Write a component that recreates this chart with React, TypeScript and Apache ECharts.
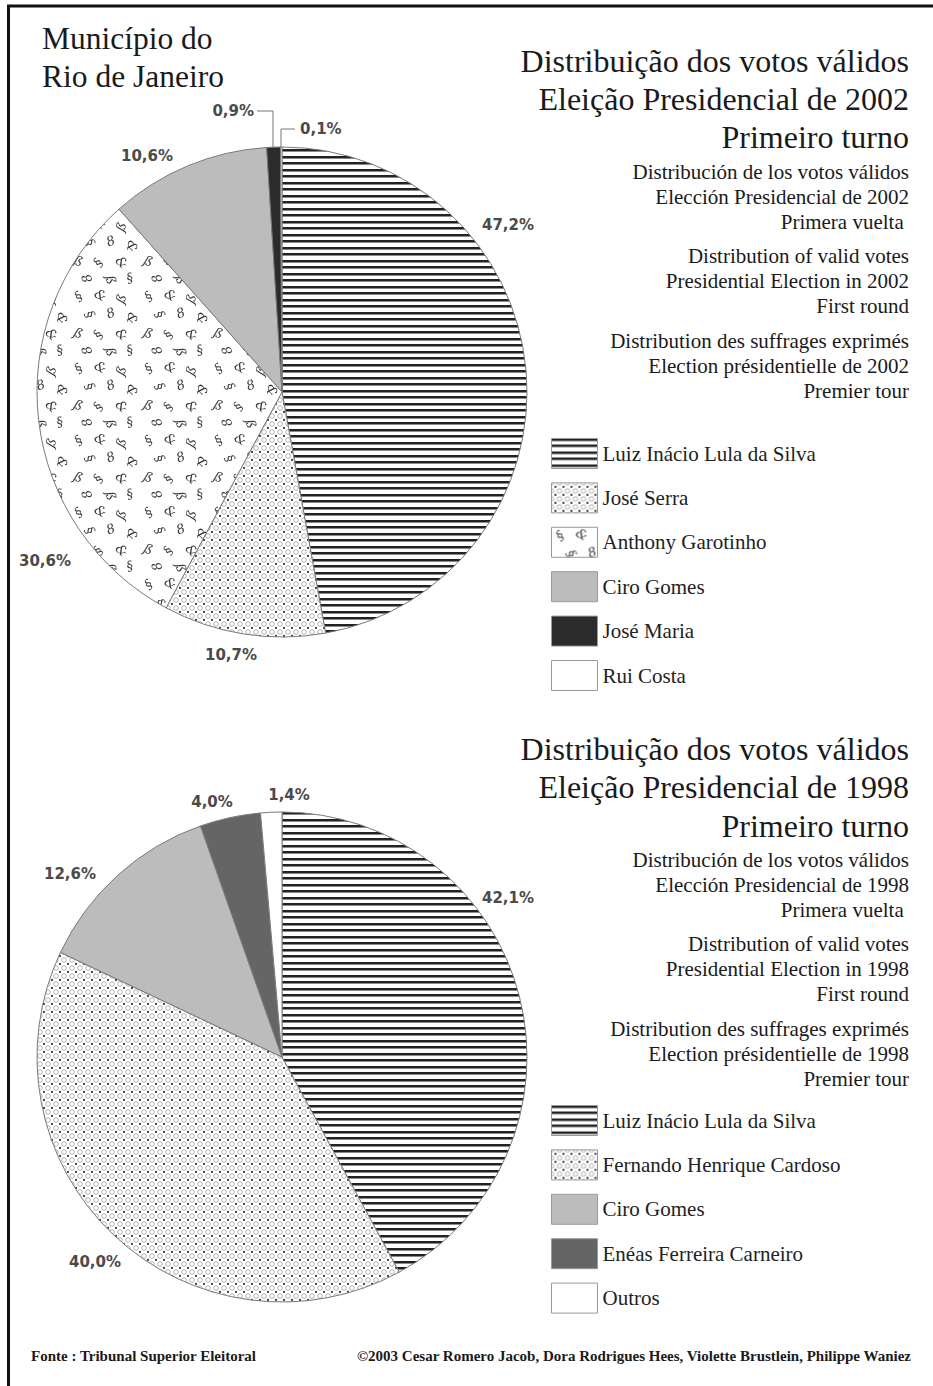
import React, { useEffect, useRef } from 'react';
import * as echarts from 'echarts';

// ---------- DATA ----------
const place = ['Município do', 'Rio de Janeiro'];

const candidates2002 = ['Luiz Inácio Lula da Silva', 'José Serra', 'Anthony Garotinho', 'Ciro Gomes', 'José Maria', 'Rui Costa'];
const values2002 = [47.2, 10.7, 30.6, 10.6, 0.9, 0.1];

const candidates1998 = ['Luiz Inácio Lula da Silva', 'Fernando Henrique Cardoso', 'Ciro Gomes', 'Enéas Ferreira Carneiro', 'Outros'];
const values1998 = [42.1, 40.0, 12.6, 4.0, 1.4];

const titleBig2002 = ['Distribuição dos votos válidos', 'Eleição Presidencial de 2002', 'Primeiro turno'];
const titleSmall2002 = [
  'Distribución de los votos válidos', 'Elección Presidencial de 2002', 'Primera vuelta\u00a0',
  'Distribution of valid votes', 'Presidential Election in 2002', 'First round',
  'Distribution des suffrages exprimés', 'Election présidentielle de 2002', 'Premier tour',
];
const titleBig1998 = ['Distribuição dos votos válidos', 'Eleição Presidencial de 1998', 'Primeiro turno'];
const titleSmall1998 = [
  'Distribución de los votos válidos', 'Elección Presidencial de 1998', 'Primera vuelta\u00a0',
  'Distribution of valid votes', 'Presidential Election in 1998', 'First round',
  'Distribution des suffrages exprimés', 'Election présidentielle de 1998', 'Premier tour',
];
const sourceText = 'Fonte : Tribunal Superior Eleitoral';
const creditText = '©2003 Cesar Romero Jacob, Dora Rodrigues Hees, Violette Brustlein, Philippe Waniez';

// ---------- STYLE / LAYOUT ----------
const fills2002 = ['stripes', 'dots', 'glyphs', '#bcbcbc', '#2b2b2b', '#ffffff'];
const fills1998 = ['stripes', 'dots', '#bcbcbc', '#656565', '#ffffff'];

const PIE_R = 245;
const CENTER_2002: [number, number] = [282, 392];
const CENTER_1998: [number, number] = [282, 1057];

// label anchor offsets relative to pie centre: [dx, dy, align]
const labelPos2002: [number, number, string][] = [
  [226, -167, 'center'], [-51, 263, 'center'], [-237, 169, 'center'],
  [-135, -236, 'center'], [-28, -281, 'right'], [18, -263, 'left'],
];
const labelLines2002: (number[][] | null)[] = [
  null, null, null, null,
  [[-9, -245], [-9, -281], [-25, -281]],
  [[-1, -245], [-1, -263], [13, -263]],
];
const labelPos1998: [number, number, string][] = [
  [226, -159, 'center'], [-187, 205, 'center'], [-212, -183, 'center'],
  [-70, -255, 'center'], [7, -262, 'center'],
];
const labelLines1998: (number[][] | null)[] = [null, null, null, null, null];

function makeCanvas(w: number, h: number, draw: (ctx: CanvasRenderingContext2D) => void) {
  const c = document.createElement('canvas');
  c.width = w;
  c.height = h;
  const ctx = c.getContext('2d') as CanvasRenderingContext2D;
  draw(ctx);
  return c;
}

function buildPatterns() {
  const stripes = makeCanvas(8, 13, (ctx) => {
    ctx.fillStyle = '#fff';
    ctx.fillRect(0, 0, 8, 13);
    ctx.fillStyle = '#222';
    ctx.fillRect(0, 0, 8, 2);
    ctx.fillRect(0, 6, 8, 2);
    ctx.fillStyle = '#8a8a8a';
    ctx.fillRect(0, 2, 8, 1);
    ctx.fillRect(0, 8, 8, 1);
  });
  const dots = makeCanvas(8, 8, (ctx) => {
    ctx.fillStyle = '#fff';
    ctx.fillRect(0, 0, 8, 8);
    ctx.fillStyle = '#444';
    ctx.beginPath();
    ctx.arc(4, 4, 1.15, 0, Math.PI * 2);
    ctx.fill();
    ctx.strokeStyle = '#a8a8a8';
    ctx.lineWidth = 0.9;
    for (const [x, y] of [[0, 0], [8, 0], [0, 8], [8, 8]]) {
      ctx.beginPath();
      ctx.arc(x, y, 2.3, 0, Math.PI * 2);
      ctx.stroke();
    }
  });
  const glyphList: [number, number, number, string][] = [
    [9, 9, -40, '§'], [30, 8, 30, '&'], [52, 11, -70, 'ß'],
    [19, 27, 60, '§'], [41, 26, -20, '8'], [61, 30, 100, '&'],
    [8, 46, 20, 'ß'], [29, 47, -60, '§'], [51, 47, 45, '&'],
    [18, 62, -110, '8'], [40, 64, 75, 'ß'], [60, 63, -15, '§'],
  ];
  const glyphs = makeCanvas(70, 72, (ctx) => {
    ctx.fillStyle = '#fff';
    ctx.fillRect(0, 0, 70, 72);
    ctx.fillStyle = '#3a3a3a';
    ctx.font = 'italic 13px "DejaVu Serif"';
    ctx.textAlign = 'center';
    ctx.textBaseline = 'middle';
    for (const [x, y, r, ch] of glyphList) {
      for (const ox of [-70, 0, 70]) {
        for (const oy of [-72, 0, 72]) {
          ctx.save();
          ctx.translate(x + ox, y + oy);
          ctx.rotate((r * Math.PI) / 180);
          ctx.fillText(ch, 0, 0);
          ctx.restore();
        }
      }
    }
  });
  const pat = (c: HTMLCanvasElement) => ({ image: c, repeat: 'repeat', imageWidth: c.width, imageHeight: c.height });
  return { stripes: pat(stripes), dots: pat(dots), glyphs: pat(glyphs) } as Record<string, any>;
}

const fmt = (v: number) => v.toFixed(1).replace('.', ',') + '%';

function makePie(
  names: string[], values: number[], fills: string[], center: [number, number],
  pos: [number, number, string][], lines: (number[][] | null)[], patterns: Record<string, any>,
) {
  const [cx, cy] = center;
  return {
    type: 'pie',
    center,
    radius: PIE_R,
    startAngle: 90,
    clockwise: true,
    avoidLabelOverlap: false,
    silent: true,
    emphasis: { disabled: true },
    itemStyle: { borderColor: '#7a7a7a', borderWidth: 1 },
    label: {
      show: true,
      position: 'outside',
      formatter: (p: any) => fmt(p.value),
      fontFamily: 'DejaVu Sans',
      fontWeight: 'bold',
      fontSize: 15,
      color: '#4a4a4a',
    },
    labelLine: { show: false, lineStyle: { color: '#777', width: 1 } },
    labelLayout: (params: any) => {
      const i = params.dataIndex;
      const p = pos[i];
      const res: any = { x: cx + p[0], y: cy + p[1], align: p[2], verticalAlign: 'middle' };
      const l = lines[i];
      if (l) res.labelLinePoints = l.map(([dx, dy]) => [cx + dx, cy + dy]);
      return res;
    },
    data: names.map((n, i) => ({
      name: n,
      value: values[i],
      itemStyle: { color: patterns[fills[i]] || fills[i] },
      labelLine: { show: !!lines[i] },
    })),
  };
}

function makeLegend(names: string[], top: number) {
  return {
    data: names,
    orient: 'vertical',
    left: 551,
    top,
    padding: 0,
    icon: 'rect',
    itemWidth: 46,
    itemHeight: 30,
    itemGap: 13.4,
    selectedMode: false,
    itemStyle: { borderColor: '#9a9a9a', borderWidth: 1 },
    textStyle: { fontFamily: 'Liberation Serif', fontSize: 21, lineHeight: 24, color: '#222' },
  };
}

function txt(text: string, x: number, y: number, size: number, align = 'right', extra: any = {}) {
  return {
    type: 'text',
    x,
    y,
    silent: true,
    style: {
      text,
      fontFamily: 'Liberation Serif',
      fontSize: size,
      fill: '#1a1a1a',
      align,
      textAlign: align,
      verticalAlign: 'middle',
      textVerticalAlign: 'middle',
      ...extra,
    },
  };
}

function titleBlock(big: string[], small: string[], bigY: number[], smallY: number[]) {
  const out: any[] = [];
  big.forEach((t, i) => out.push(txt(t, 909, bigY[i], 32)));
  small.forEach((t, i) => out.push(txt(t, 909, smallY[i], 21)));
  return out;
}

export default function App() {
  const ref = useRef<HTMLDivElement>(null);
  useEffect(() => {
    if (!ref.current) return;
    const chart = echarts.init(ref.current, null, { renderer: 'svg' });
    const patterns = buildPatterns();
    const graphic: any[] = [
      {
        type: 'rect',
        silent: true,
        z: 100,
        shape: { x: 8.5, y: 6, width: 960, height: 1420 },
        style: { fill: 'none', stroke: '#111', lineWidth: 3 },
      },
      txt(place[0], 42, 38, 31.5, 'left'),
      txt(place[1], 42, 76, 31.5, 'left'),
      ...titleBlock(titleBig2002, titleSmall2002, [61, 99, 137], [172, 197, 222, 256, 281, 306, 341, 366, 391]),
      ...titleBlock(titleBig1998, titleSmall1998, [749, 787, 826], [860, 885, 910, 944, 969, 994, 1029, 1054, 1079]),
      txt(sourceText, 31, 1356, 15, 'left', { fontWeight: 'bold' }),
      txt(creditText, 911, 1356, 15, 'right', { fontWeight: 'bold' }),
    ];
    chart.setOption({
      animation: false,
      backgroundColor: '#ffffff',
      graphic,
      legend: [makeLegend(candidates2002, 438), makeLegend(candidates1998, 1105)],
      series: [
        makePie(candidates2002, values2002, fills2002, CENTER_2002, labelPos2002, labelLines2002, patterns),
        makePie(candidates1998, values1998, fills1998, CENTER_1998, labelPos1998, labelLines1998, patterns),
      ],
    });
    return () => chart.dispose();
  }, []);
  return (
    <div
      ref={ref}
      style={{ position: 'fixed', left: 0, top: 0, width: 933, height: 1386, background: '#fff' }}
    />
  );
}
